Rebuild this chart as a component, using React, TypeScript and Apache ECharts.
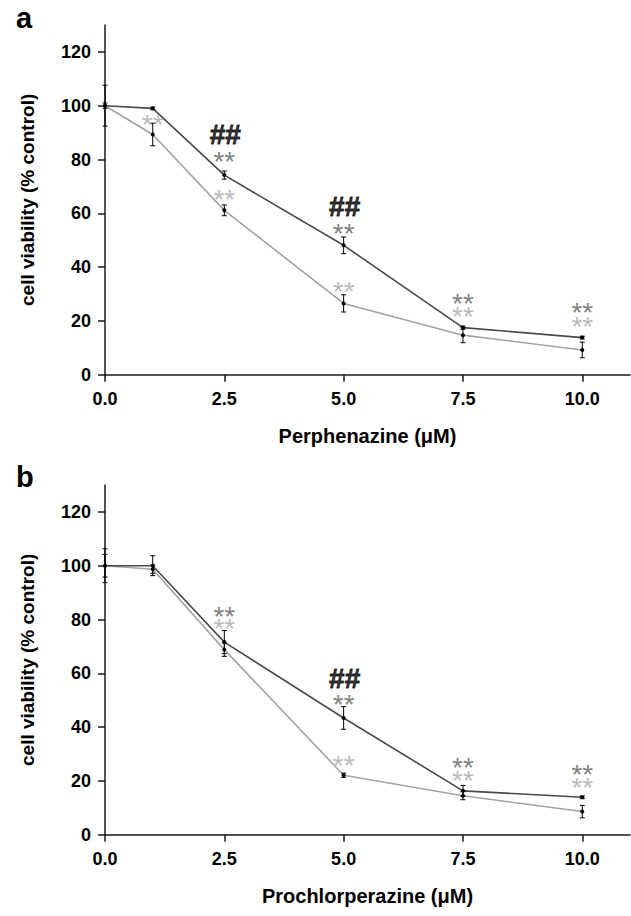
import React, { useEffect, useRef } from "react";
import * as echarts from "echarts";

const FONT = 'Arial, "Liberation Sans", Helvetica, sans-serif';

// Doses (µM)
const doses = [0, 1, 2.5, 5, 7.5, 10];
const xTickValues = [0, 2.5, 5, 7.5, 10];
const yTickValues = [0, 20, 40, 60, 80, 100, 120];

// Panel a: Perphenazine
const perphDark = [100, 99.0, 74.2, 48.1, 17.5, 13.8];
const perphDarkErr = [7.6, 0.5, 1.5, 3.1, 0.6, 0.5];
const perphLight = [100, 89.3, 61.1, 26.5, 14.7, 9.2];
const perphLightErr = [1.0, 4.2, 2.0, 3.2, 2.8, 2.9];

// Panel b: Prochlorperazine
const prochDark = [100, 100.0, 71.6, 43.4, 16.3, 13.9];
const prochDarkErr = [6.3, 3.7, 4.3, 4.2, 2.0, 0.5];
const prochLight = [100, 98.7, 68.8, 22.1, 14.5, 8.6];
const prochLightErr = [4.2, 1.5, 2.5, 0.8, 1.5, 2.3];

// Significance annotations: [dose, label centre value, kind]
const perphAnnot: [number, number, string][] = [
  [1, 93.7, "light"],
  [2.5, 89.3, "hash"],
  [2.5, 80.0, "dark"],
  [2.5, 65.7, "light"],
  [5, 62.6, "hash"],
  [5, 53.3, "dark"],
  [5, 31.8, "light"],
  [7.5, 27.2, "dark"],
  [7.5, 22.3, "light"],
  [10, 23.9, "dark"],
  [10, 18.8, "light"],
];
const prochAnnot: [number, number, string][] = [
  [2.5, 81.9, "dark"],
  [2.5, 77.3, "light"],
  [5, 58.1, "hash"],
  [5, 49.2, "dark"],
  [5, 26.6, "light"],
  [7.5, 25.6, "dark"],
  [7.5, 21.0, "light"],
  [10, 23.3, "dark"],
  [10, 18.2, "light"],
];

const panels = [
  { letter: "a", drug: "Perphenazine (\u03bcM)", dark: perphDark, darkErr: perphDarkErr, light: perphLight, lightErr: perphLightErr, annot: perphAnnot },
  { letter: "b", drug: "Prochlorperazine (\u03bcM)", dark: prochDark, darkErr: prochDarkErr, light: prochLight, lightErr: prochLightErr, annot: prochAnnot },
];

const DARK_LINE = "#4a4a4a";
const LIGHT_LINE = "#a3a3a3";
const DARK_STAR = "#5e5e5e";
const LIGHT_STAR = "#a8a8a8";

function errorRender(params: any, api: any) {
  const x = api.value(0);
  const y = api.value(1);
  const e = api.value(2);
  const t = api.coord([x, y + e]);
  const b = api.coord([x, y - e]);
  const w = 2.5;
  const st = { stroke: "#000", lineWidth: 1 };
  return {
    type: "group",
    children: [
      { type: "line", shape: { x1: t[0], y1: t[1], x2: b[0], y2: b[1] }, style: st },
      { type: "line", shape: { x1: t[0] - w, y1: t[1], x2: t[0] + w, y2: t[1] }, style: st },
      { type: "line", shape: { x1: b[0] - w, y1: b[1], x2: b[0] + w, y2: b[1] }, style: st },
    ],
  };
}

export default function App() {
  const ref = useRef<HTMLDivElement>(null);
  useEffect(() => {
    if (!ref.current) return;
    const chart = echarts.init(ref.current, undefined, { renderer: "svg" });
    const grids = [
      { left: 105, right: 1, top: 25, bottom: 541.3, outerBoundsMode: "none" },
      { left: 105, right: 1, top: 485, bottom: 81.3, outerBoundsMode: "none" },
    ];
    const xAxes: any[] = [];
    const yAxes: any[] = [];
    const series: any[] = [];
    panels.forEach((p, i) => {
      xAxes.push({
        type: "value",
        gridIndex: i,
        min: 0,
        max: 11,
        interval: 2.5,
        splitLine: { show: false },
        axisLine: { show: true, lineStyle: { color: "#1a1a1a", width: 1.5 } },
        axisTick: { show: true, length: 7, lineStyle: { color: "#1a1a1a", width: 1.5 }, customValues: xTickValues },
        axisLabel: {
          customValues: xTickValues,
          formatter: (v: number) => v.toFixed(1),
          fontFamily: FONT,
          fontWeight: "bold",
          fontSize: 18,
          color: "#000",
          margin: 15,
        },
        name: p.drug,
        nameLocation: "middle",
        nameGap: 51,
        nameTextStyle: { fontFamily: FONT, fontWeight: "bold", fontSize: 20, color: "#000" },
      });
      yAxes.push({
        type: "value",
        gridIndex: i,
        min: 0,
        max: 130,
        interval: 20,
        splitLine: { show: false },
        axisLine: { show: true, lineStyle: { color: "#1a1a1a", width: 1.5 } },
        axisTick: { show: true, length: 7, lineStyle: { color: "#1a1a1a", width: 1.5 }, customValues: yTickValues },
        axisLabel: {
          customValues: yTickValues,
          fontFamily: FONT,
          fontWeight: "bold",
          fontSize: 18,
          color: "#000",
          margin: 14,
        },
        name: "cell viability (% control)",
        nameLocation: "middle",
        nameGap: 68,
        nameTextStyle: { fontFamily: FONT, fontWeight: "bold", fontSize: 19, color: "#000" },
      });
      const mk = (vals: number[]) => doses.map((d, k) => [d, vals[k]]);
      series.push({
        type: "line",
        xAxisIndex: i,
        yAxisIndex: i,
        data: mk(p.light),
        lineStyle: { color: LIGHT_LINE, width: 1.6 },
        itemStyle: { color: "#000" },
        symbol: "circle",
        symbolSize: 4,
        showSymbol: true,
        z: 2,
      });
      series.push({
        type: "line",
        xAxisIndex: i,
        yAxisIndex: i,
        data: mk(p.dark),
        lineStyle: { color: DARK_LINE, width: 1.6 },
        itemStyle: { color: "#000" },
        symbol: "circle",
        symbolSize: 4,
        showSymbol: true,
        z: 3,
      });
      series.push({
        type: "custom",
        xAxisIndex: i,
        yAxisIndex: i,
        renderItem: errorRender,
        data: doses.map((d, k) => [d, p.light[k], p.lightErr[k]]),
        z: 4,
      });
      series.push({
        type: "custom",
        xAxisIndex: i,
        yAxisIndex: i,
        renderItem: errorRender,
        data: doses.map((d, k) => [d, p.dark[k], p.darkErr[k]]),
        z: 4,
      });
      series.push({
        type: "scatter",
        xAxisIndex: i,
        yAxisIndex: i,
        symbol: "circle",
        symbolSize: 1,
        itemStyle: { color: "rgba(0,0,0,0)" },
        z: 5,
        data: p.annot.map(([x, y, kind]) => {
          const isHash = kind === "hash";
          const col = isHash ? "#000" : kind === "dark" ? DARK_STAR : LIGHT_STAR;
          return {
            value: [x, y],
            label: {
              show: true,
              position: "inside",
              formatter: isHash ? "##" : "**",
              fontFamily: FONT,
              fontWeight: isHash ? "bold" : "normal",
              fontSize: isHash ? 28 : 28,
              lineHeight: isHash ? 20 : 10,
              color: col,
              textBorderColor: isHash ? "#000" : "transparent",
              textBorderWidth: isHash ? 0.8 : 0,
              offset: isHash ? [1, 0] : [0, 2],
            },
          };
        }),
      });
    });
    chart.setOption({
      animation: false,
      backgroundColor: "#fff",
      grid: grids,
      xAxis: xAxes,
      yAxis: yAxes,
      series,
      graphic: [
        { type: "text", left: 16, top: 3, style: { text: "a", font: `bold 29px ${FONT}`, fill: "#000" } },
        { type: "text", left: 16, top: 462, style: { text: "b", font: `bold 29px ${FONT}`, fill: "#000" } },
      ],
    });
    return () => chart.dispose();
  }, []);
  return (
    <div
      ref={ref}
      style={{ position: "absolute", left: 0, top: 0, width: 631, height: 916, background: "#fff" }}
    />
  );
}
